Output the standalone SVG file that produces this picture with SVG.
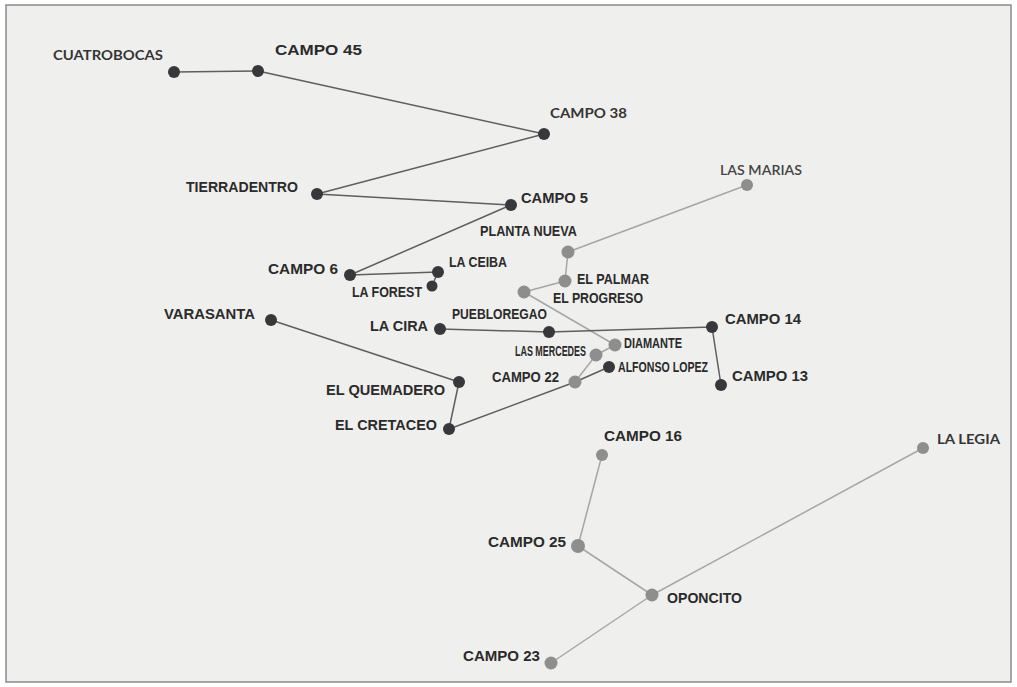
<svg xmlns="http://www.w3.org/2000/svg" width="1017" height="687" viewBox="0 0 1017 687">
<style>
.lbl{font-family:"Liberation Sans",Arial,sans-serif;font-weight:bold;font-size:15px;fill:#2b2b2b}
.lbl2{font-family:Lato,"Liberation Sans",sans-serif;font-weight:bold;font-size:14px;fill:#353535}
.dk{fill:#38383c}
.gr{fill:#8e8e8e}
.ed{stroke:#5e5e5e;stroke-width:1.5;fill:none}
.eg{stroke:#a6a6a6;stroke-width:1.5;fill:none}
</style>
<rect x="0" y="0" width="1017" height="687" fill="#ffffff"/>
<rect x="6" y="5" width="1005" height="677" fill="#efefed" stroke="#8a8a8a" stroke-width="1.5"/>
<g id="connectors">
<line class="ed" x1="174" y1="72" x2="258" y2="71"/>
<line class="ed" x1="258" y1="71" x2="544" y2="134"/>
<line class="ed" x1="544" y1="134" x2="317" y2="194"/>
<line class="ed" x1="317" y1="194" x2="511" y2="205"/>
<line class="ed" x1="511" y1="205" x2="350" y2="275"/>
<line class="ed" x1="350" y1="275" x2="438" y2="272"/>
<line class="ed" x1="438" y1="272" x2="432" y2="286"/>
<line class="eg" x1="747" y1="185" x2="568" y2="252"/>
<line class="eg" x1="568" y1="252" x2="565" y2="281"/>
<line class="eg" x1="565" y1="281" x2="524" y2="292"/>
<line class="eg" x1="524" y1="292" x2="615" y2="345"/>
<line class="eg" x1="615" y1="345" x2="596" y2="355"/>
<line class="eg" x1="596" y1="355" x2="575" y2="382"/>
<line class="ed" x1="575" y1="382" x2="609" y2="367"/>
<line class="ed" x1="449" y1="429" x2="575" y2="382"/>
<line class="ed" x1="449" y1="429" x2="459" y2="382"/>
<line class="ed" x1="459" y1="382" x2="271" y2="320"/>
<line class="ed" x1="440" y1="329" x2="549" y2="332"/>
<line class="ed" x1="549" y1="332" x2="712" y2="327"/>
<line class="ed" x1="712" y1="327" x2="721" y2="385"/>
<line class="eg" x1="602" y1="455" x2="578" y2="546"/>
<line class="eg" x1="578" y1="546" x2="652" y2="595"/>
<line class="eg" x1="652" y1="595" x2="923" y2="448"/>
<line class="eg" x1="652" y1="595" x2="551" y2="663"/>
</g>
<g id="n-cuatrobocas"><circle class="dk" cx="174" cy="72" r="6"/><text class="lbl2" x="53" y="60" textLength="110" lengthAdjust="spacingAndGlyphs">CUATROBOCAS</text></g>
<g id="n-campo45"><circle class="dk" cx="258" cy="71" r="6"/><text class="lbl" x="275" y="55" font-size="17" textLength="87" lengthAdjust="spacingAndGlyphs">CAMPO 45</text></g>
<g id="n-campo38"><circle class="dk" cx="544" cy="134" r="6"/><text class="lbl2" x="550" y="118" font-size="15" textLength="77" lengthAdjust="spacingAndGlyphs">CAMPO 38</text></g>
<g id="n-tierradentro"><circle class="dk" cx="317" cy="194" r="6"/><text class="lbl" x="186" y="192" textLength="112" lengthAdjust="spacingAndGlyphs">TIERRADENTRO</text></g>
<g id="n-campo5"><circle class="dk" cx="511" cy="205" r="6"/><text class="lbl" x="521" y="203" textLength="67" lengthAdjust="spacingAndGlyphs">CAMPO 5</text></g>
<g id="n-lasmarias"><circle class="gr" cx="747" cy="185" r="6"/><text class="lbl2" x="720" y="175" font-size="15" textLength="82" lengthAdjust="spacingAndGlyphs" style="font-weight:600;fill:#444">LAS MARIAS</text></g>
<g id="n-plantanueva"><circle class="gr" cx="568" cy="252" r="6.5"/><text class="lbl" x="480" y="236" font-size="13.5" textLength="97" lengthAdjust="spacingAndGlyphs">PLANTA NUEVA</text></g>
<g id="n-campo6"><circle class="dk" cx="350" cy="275" r="6"/><text class="lbl" x="268" y="274" textLength="70" lengthAdjust="spacingAndGlyphs">CAMPO 6</text></g>
<g id="n-laceiba"><circle class="dk" cx="438" cy="272" r="6"/><text class="lbl" x="449" y="267" font-size="13.5" textLength="58" lengthAdjust="spacingAndGlyphs">LA CEIBA</text></g>
<g id="n-laforest"><circle class="dk" cx="432" cy="286" r="5.5"/><text class="lbl" x="352" y="297" font-size="13.5" textLength="70" lengthAdjust="spacingAndGlyphs">LA FOREST</text></g>
<g id="n-elpalmar"><circle class="gr" cx="565" cy="281" r="6.5"/><text class="lbl" x="577" y="284" font-size="13.5" textLength="72" lengthAdjust="spacingAndGlyphs">EL PALMAR</text></g>
<g id="n-elprogreso"><circle class="gr" cx="524" cy="292" r="6.5"/><text class="lbl" x="553" y="303" font-size="13.5" textLength="90" lengthAdjust="spacingAndGlyphs">EL PROGRESO</text></g>
<g id="n-varasanta"><circle class="dk" cx="271" cy="320" r="6"/><text class="lbl" x="164" y="319" textLength="91" lengthAdjust="spacingAndGlyphs">VARASANTA</text></g>
<g id="n-lacira"><circle class="dk" cx="440" cy="329" r="6"/><text class="lbl" x="370" y="331" textLength="58" lengthAdjust="spacingAndGlyphs">LA CIRA</text></g>
<g id="n-puebloregao"><circle class="dk" cx="549" cy="332" r="6"/><text class="lbl" x="452" y="319" font-size="13.5" textLength="95" lengthAdjust="spacingAndGlyphs">PUEBLOREGAO</text></g>
<g id="n-campo14"><circle class="dk" cx="712" cy="327" r="6"/><text class="lbl" x="725" y="324" textLength="76" lengthAdjust="spacingAndGlyphs">CAMPO 14</text></g>
<g id="n-diamante"><circle class="gr" cx="615" cy="345" r="6.5"/><text class="lbl" x="624" y="348" font-size="11.5" textLength="58" lengthAdjust="spacingAndGlyphs">DIAMANTE</text></g>
<g id="n-lasmercedes"><circle class="gr" cx="596" cy="355" r="6.5"/><text class="lbl" x="515" y="356" font-size="8.5" textLength="71" lengthAdjust="spacingAndGlyphs">LAS MERCEDES</text></g>
<g id="n-alfonsolopez"><circle class="dk" cx="609" cy="367" r="6"/><text class="lbl" x="618" y="372" font-size="11.5" textLength="90" lengthAdjust="spacingAndGlyphs">ALFONSO LOPEZ</text></g>
<g id="n-campo22"><circle class="gr" cx="575" cy="382" r="6.5"/><text class="lbl" x="492" y="382" textLength="67" lengthAdjust="spacingAndGlyphs">CAMPO 22</text></g>
<g id="n-elquemadero"><circle class="dk" cx="459" cy="382" r="6"/><text class="lbl" x="326" y="395" textLength="119" lengthAdjust="spacingAndGlyphs">EL QUEMADERO</text></g>
<g id="n-campo13"><circle class="dk" cx="721" cy="385" r="6"/><text class="lbl" x="732" y="381" textLength="76" lengthAdjust="spacingAndGlyphs">CAMPO 13</text></g>
<g id="n-elcretaceo"><circle class="dk" cx="449" cy="429" r="6"/><text class="lbl" x="335" y="430" textLength="102" lengthAdjust="spacingAndGlyphs">EL CRETACEO</text></g>
<g id="n-campo16"><circle class="gr" cx="602" cy="455" r="6"/><text class="lbl" x="604" y="441" textLength="78" lengthAdjust="spacingAndGlyphs">CAMPO 16</text></g>
<g id="n-lalegia"><circle class="gr" cx="923" cy="448" r="6"/><text class="lbl2" x="937" y="444" font-size="15" textLength="63" lengthAdjust="spacingAndGlyphs">LA LEGIA</text></g>
<g id="n-campo25"><circle class="gr" cx="578" cy="546" r="7"/><text class="lbl" x="488" y="547" textLength="78" lengthAdjust="spacingAndGlyphs">CAMPO 25</text></g>
<g id="n-oponcito"><circle class="gr" cx="652" cy="595" r="6.5"/><text class="lbl" x="667" y="603" font-size="14" textLength="75" lengthAdjust="spacingAndGlyphs">OPONCITO</text></g>
<g id="n-campo23"><circle class="gr" cx="551" cy="663" r="6.5"/><text class="lbl" x="463" y="661" textLength="77" lengthAdjust="spacingAndGlyphs">CAMPO 23</text></g>
</svg>
